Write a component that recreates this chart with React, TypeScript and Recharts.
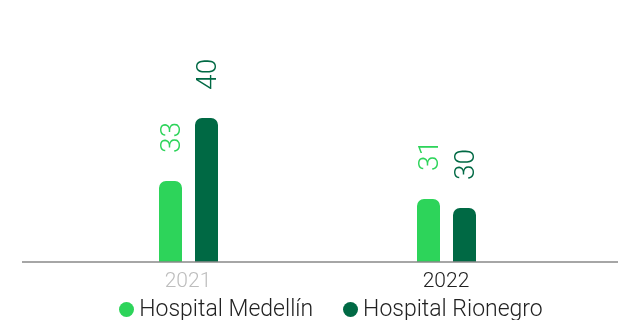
import React from "react";
import { BarChart, Bar, XAxis, YAxis, Legend } from "recharts";

const categories = ["2021", "2022"];
const medellin = [33, 31];
const rionegro = [40, 30];
const seriesNames = ["Hospital Medellín", "Hospital Rionegro"];
const tickColors = ["#bdbdbd", "#222222"];

const LIGHT = "#2dd45a";
const DARK = "#006944";
const FONT = "Roboto, 'Noto Sans', sans-serif";

const data = categories.map((c, i) => ({ year: c, med: medellin[i], rio: rionegro[i] }));

const makeLabel = (color: string) => (props: any) => {
  const { x, y, width, value } = props;
  const cx = x + width / 2;
  const cy = y - 28;
  return (
    <text
      x={cx}
      y={cy}
      transform={`rotate(-90 ${cx} ${cy})`}
      textAnchor="start"
      dominantBaseline="central"
      fill={color}
      fontSize={28}
      fontWeight={300}
      fontFamily={FONT}
    >
      {value}
    </text>
  );
};

const Tick = (props: any) => {
  const { x, y, payload, index } = props;
  return (
    <text
      x={x}
      y={y}
      dy={17}
      textAnchor="middle"
      fill={tickColors[index] ?? "#222"}
      fontSize={21}
      fontWeight={300}
      fontFamily={FONT}
    >
      {payload.value}
    </text>
  );
};

const LegendContent = () => {
  const colors = [LIGHT, DARK];
  return (
    <div
      style={{
        display: "flex",
        justifyContent: "center",
        alignItems: "center",
        height: 28,
        paddingTop: 6,
        boxSizing: "border-box",
        fontFamily: FONT,
        fontSize: 23,
        lineHeight: "22px",
        fontWeight: 300,
        color: "#222",
        paddingLeft: 22,
      }}
    >
      {seriesNames.map((n, i) => (
        <div key={n} style={{ display: "flex", alignItems: "center", marginRight: i === 0 ? 30 : 0 }}>
          <span
            style={{
              display: "inline-block",
              width: 15,
              height: 15,
              borderRadius: "50%",
              background: colors[i],
              marginRight: 5,
            }}
          />
          <span>{n}</span>
        </div>
      ))}
    </div>
  );
};

export default function App() {
  return (
    <div style={{ position: "fixed", left: 0, top: 0, width: 618, height: 320 }}>
      <BarChart
        width={618}
        height={320}
        data={data}
        margin={{ top: 8, right: 0, bottom: 0, left: 22 }}
        barSize={23}
        barGap={13}
      >
        <XAxis
          dataKey="year"
          axisLine={{ stroke: "#888", strokeWidth: 1.5 }}
          tickLine={false}
          tick={<Tick />}
          height={30}
          padding={{ left: 37, right: 43 }}
          interval={0}
        />
        <YAxis hide domain={[24, 52.2]} allowDataOverflow />
        <Legend verticalAlign="bottom" height={28} content={<LegendContent />} />
        <Bar
          dataKey="med"
          name={seriesNames[0]}
          fill={LIGHT}
          radius={[7, 7, 0, 0]}
          isAnimationActive={false}
          label={makeLabel(LIGHT)}
        />
        <Bar
          dataKey="rio"
          name={seriesNames[1]}
          fill={DARK}
          radius={[7, 7, 0, 0]}
          isAnimationActive={false}
          label={makeLabel(DARK)}
        />
      </BarChart>
    </div>
  );
}
